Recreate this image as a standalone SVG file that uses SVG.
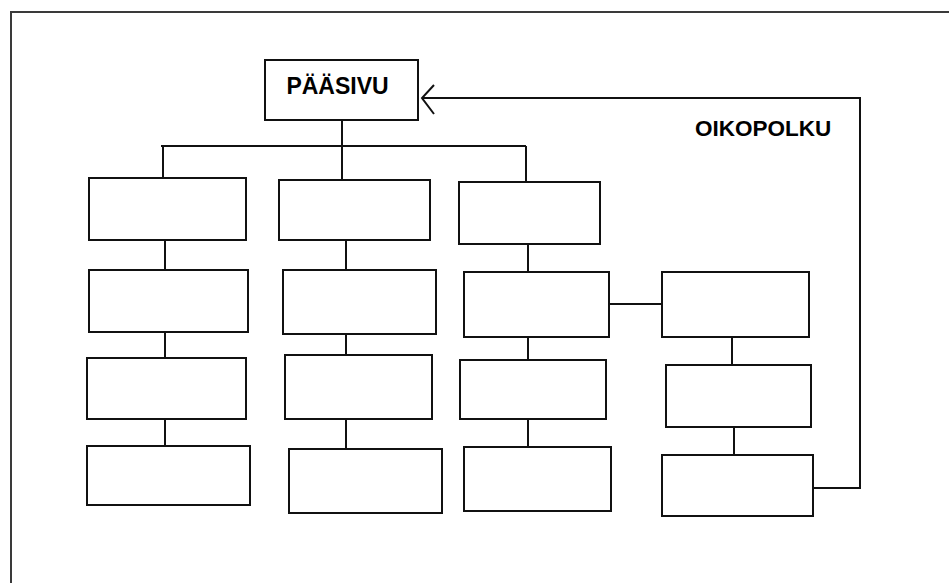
<svg xmlns="http://www.w3.org/2000/svg" width="949" height="583" viewBox="0 0 949 583">
<style>
.box{fill:#ffffff;stroke:#111111;stroke-width:2}
.ln{fill:none;stroke:#111111;stroke-width:2}
.frame{fill:none;stroke:#3a3a3a;stroke-width:2}
.lbl{font-family:"Liberation Sans",Arial,sans-serif;font-weight:bold;fill:#000000}
</style>
<rect x="0" y="0" width="949" height="583" fill="#ffffff"/>
<path class="frame" d="M949,12 H11 V583"/>
<g id="connectors">
<path class="ln" d="M342,120 V180"/>
<path class="ln" d="M161,146 H526"/>
<path class="ln" d="M163,146 V183"/>
<path class="ln" d="M526,146 V182"/>
<path class="ln" d="M165,240 V270 M165,332 V358 M165,419 V446"/>
<path class="ln" d="M346,240 V270 M346,334 V355 M346,419 V449"/>
<path class="ln" d="M528,240 V272 M528,337 V360 M528,419 V447"/>
<path class="ln" d="M609,304 H662"/>
<path class="ln" d="M732,337 V365 M734,427 V455"/>
<path class="ln" d="M813,488 H860 V98 H422"/>
<path class="ln" d="M434,85 L422,98 L434,114"/>
</g>
<g id="paasivu"><rect class="box" x="265" y="60" width="153" height="60"/><text class="lbl" x="337.5" y="94" font-size="23" text-anchor="middle">PÄÄSIVU</text></g>
<g id="c1b1"><rect class="box" x="89" y="178" width="157" height="62"/></g>
<g id="c1b2"><rect class="box" x="89" y="270" width="159" height="62"/></g>
<g id="c1b3"><rect class="box" x="87" y="358" width="159" height="61"/></g>
<g id="c1b4"><rect class="box" x="87" y="446" width="163" height="59"/></g>
<g id="c2b1"><rect class="box" x="279" y="180" width="151" height="60"/></g>
<g id="c2b2"><rect class="box" x="283" y="270" width="153" height="64"/></g>
<g id="c2b3"><rect class="box" x="285" y="355" width="147" height="64"/></g>
<g id="c2b4"><rect class="box" x="289" y="449" width="153" height="64"/></g>
<g id="c3b1"><rect class="box" x="459" y="182" width="141" height="62"/></g>
<g id="c3b2"><rect class="box" x="464" y="272" width="145" height="65"/></g>
<g id="c3b3"><rect class="box" x="460" y="360" width="146" height="59"/></g>
<g id="c3b4"><rect class="box" x="464" y="447" width="147" height="64"/></g>
<g id="c4b1"><rect class="box" x="662" y="272" width="147" height="65"/></g>
<g id="c4b2"><rect class="box" x="666" y="365" width="145" height="62"/></g>
<g id="c4b3"><rect class="box" x="662" y="455" width="151" height="61"/></g>
<g id="oikopolku-label"><text class="lbl" x="695" y="136" font-size="22.5">OIKOPOLKU</text></g>
</svg>
